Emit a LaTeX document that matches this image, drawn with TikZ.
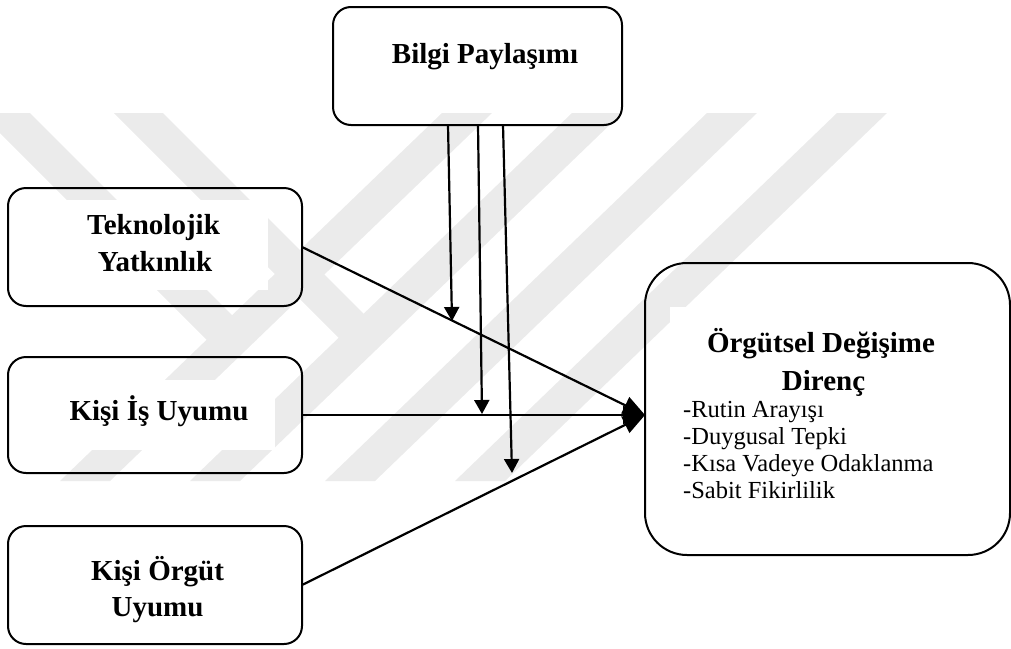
\documentclass[tikz,border=0pt]{standalone}
\usepackage{fontspec}
\setmainfont{Liberation Serif}
\usetikzlibrary{arrows.meta,calc}

\tikzset{
  box/.style={draw, line width=2, rounded corners=18, inner sep=0, outer sep=0,
              minimum width=294, minimum height=118},
  bigbox/.style={draw, line width=2, rounded corners=42, inner sep=0, outer sep=0},
  ttl/.style={anchor=base, inner sep=0, font=\bfseries\fontsize{29}{35}\selectfont},
  itm/.style={anchor=base west, inner sep=0, font=\fontsize{24.5}{28}\selectfont},
  conn/.style={line width=2.2, -{Triangle[width=18,length=22]}},
  modr/.style={line width=2.2, -{Triangle[width=15,length=14]}},
  wmark/.style={fill=black!8},
  textbg/.style={fill=white}
}

\begin{document}
\begin{tikzpicture}[x=1pt,y=-1pt]
\useasboundingbox (0,0) rectangle (1011,648);

% faint striped watermark: two short back-slanted arms and four long stripes
\fill[wmark] (-20,113) -- (30,113) -- (257,340) -- (207,340) -- cycle;
\fill[wmark] (114,113) -- (163,113) -- (388,338) -- (339,338) -- cycle;
\fill[wmark] (442,113) -- (492,113) -- (110,481) -- (60,481) -- cycle;
\fill[wmark] (572,113) -- (622,113) -- (240,481) -- (190,481) -- cycle;
\fill[wmark] (707,113) -- (757,113) -- (375,481) -- (325,481) -- cycle;
\fill[wmark] (837,113) -- (887,113) -- (505,481) -- (455,481) -- cycle;

% white panels behind the labels
\fill[textbg] (335,10) rectangle (607,110);
\fill[textbg] (10,200) rectangle (268,290);
\fill[textbg] (10,380) rectangle (275,450);
\fill[textbg] (10,548) rectangle (270,632);
\fill[textbg] (670,307) rectangle (960,510);

% boxes
\node[box, minimum width=289] (bilgi) at (477.5,66) {};
\node[box] (tek) at (155,247) {};
\node[box, minimum height=116] (kis) at (155,415) {};
\node[box] (kor) at (155,585) {};
\node[bigbox, minimum width=365, minimum height=292] (org) at (827.5,409) {};

% labels
\node[ttl] (tBilgi) at (485,63) {Bilgi Paylaşımı};
\node[ttl] (tTek1) at (153.5,234) {Teknolojik};
\node[ttl] (tTek2) at (155,271) {Yatkınlık};
\node[ttl] (tKis) at (159,420) {Kişi İş Uyumu};
\node[ttl] (tKor1) at (157.5,580.5) {Kişi Örgüt};
\node[ttl] (tKor2) at (157.5,616.5) {Uyumu};
\node[ttl] (tOrg1) at (821,352) {Örgütsel Değişime};
\node[ttl] (tOrg2) at (823.5,390) {Direnç};
\node[itm] (i1) at (683,417) {-Rutin Arayışı};
\node[itm] (i2) at (683,444) {-Duygusal Tepki};
\node[itm] (i3) at (683,471) {-Kısa Vadeye Odaklanma};
\node[itm] (i4) at (683,498) {-Sabit Fikirlilik};

% connector ends
\coordinate (hub) at (645,415);
\coordinate (m1) at (452,321);
\coordinate (m2) at (482,414);
\coordinate (m3) at (512,473);

% direct effects
\draw[conn] (tek.east) -- (hub);
\draw[conn] (kis.east) -- (hub);
\draw[conn] (kor.east) -- (hub);

% moderating effects
\draw[modr] ([xshift=-29.5]bilgi.south) -- (m1);
\draw[modr] ([xshift=0.5]bilgi.south) -- (m2);
\draw[modr] ([xshift=25.5]bilgi.south) -- (m3);
\end{tikzpicture}
\end{document}
